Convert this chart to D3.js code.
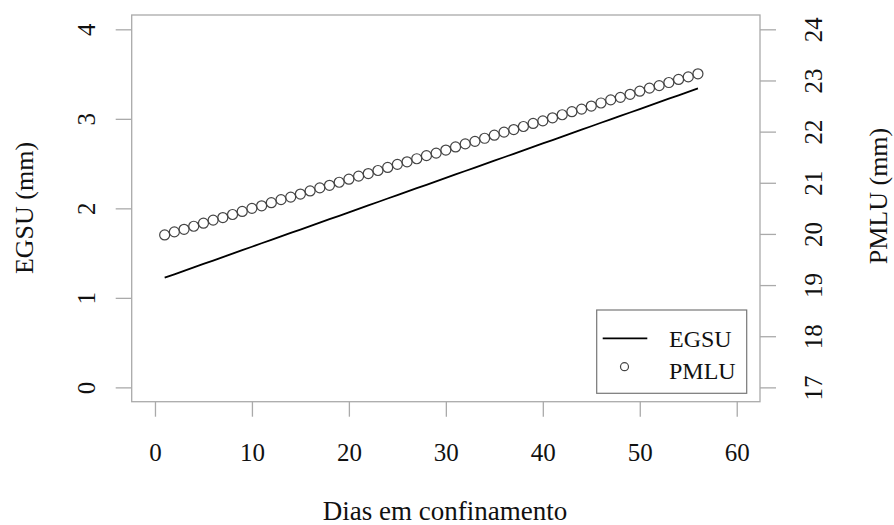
<!DOCTYPE html>
<html>
<head>
<meta charset="utf-8">
<script src="https://cdn.jsdelivr.net/npm/d3@7"></script>
<style>
  body { margin: 0; background: #fff; }
  svg text { font-family: "Liberation Serif", "DejaVu Serif", serif; fill: #111; }
</style>
</head>
<body>
<svg></svg>
<script>
// dias e medidas
var days = [1, 2, 3, 4, 5, 6, 7, 8, 9, 10, 11, 12, 13, 14, 15, 16, 17, 18, 19, 20,
  21, 22, 23, 24, 25, 26, 27, 28, 29, 30, 31, 32, 33, 34, 35, 36, 37, 38, 39, 40,
  41, 42, 43, 44, 45, 46, 47, 48, 49, 50, 51, 52, 53, 54, 55, 56];
var egsu = [1.225, 1.263, 1.302, 1.340, 1.379, 1.417, 1.456, 1.494, 1.533, 1.571,
  1.610, 1.648, 1.686, 1.725, 1.763, 1.802, 1.840, 1.879, 1.917, 1.956, 1.994, 2.033,
  2.071, 2.110, 2.148, 2.186, 2.225, 2.263, 2.302, 2.340, 2.379, 2.417, 2.456, 2.494,
  2.533, 2.571, 2.609, 2.648, 2.686, 2.725, 2.763, 2.802, 2.840, 2.879, 2.917, 2.956,
  2.994, 3.032, 3.071, 3.109, 3.148, 3.186, 3.225, 3.263, 3.302, 3.340];
var pmlu = [19.98, 20.04, 20.09, 20.15, 20.21, 20.27, 20.32, 20.38, 20.44, 20.50,
  20.55, 20.61, 20.67, 20.72, 20.78, 20.84, 20.90, 20.95, 21.01, 21.07, 21.13, 21.18,
  21.24, 21.30, 21.36, 21.41, 21.47, 21.53, 21.58, 21.64, 21.70, 21.76, 21.81, 21.87,
  21.93, 21.99, 22.04, 22.10, 22.16, 22.21, 22.27, 22.33, 22.39, 22.44, 22.50, 22.56,
  22.62, 22.67, 22.73, 22.79, 22.85, 22.90, 22.96, 23.02, 23.07, 23.13];
var xTicks = [0, 10, 20, 30, 40, 50, 60];
var leftTicks = [0, 1, 2, 3, 4];
var rightTicks = [17, 18, 19, 20, 21, 22, 23, 24];
var legendLabels = ["EGSU", "PMLU"];

var width = 894,
  height = 525,
  box = { left: 131.7, right: 760, top: 15, bottom: 401.7 },
  axisCol = "#aaaaaa",
  fsTick = 25,
  fsTitle = 26;

var svg = d3.select("svg").attr("width", width).attr("height", height);

// R style: 4% padding around the limits
var x = d3.scaleLinear().domain([-2.4, 62.4]).range([box.left, box.right]);
var yL = d3.scaleLinear().domain([-0.16, 4.16]).range([box.bottom, box.top]);
var yR = d3.scaleLinear().domain([16.72, 24.28]).range([box.bottom, box.top]);

svg.append("rect")
  .attr("x", box.left).attr("y", box.top)
  .attr("width", box.right - box.left).attr("height", box.bottom - box.top)
  .attr("fill", "none").attr("stroke", axisCol).attr("stroke-width", 1.3);

// x axis
var gx = svg.append("g").attr("transform", "translate(0," + box.bottom + ")")
  .call(d3.axisBottom(x).tickValues(xTicks).tickSize(15).tickFormat(d3.format("d")));
gx.select(".domain").remove();
gx.selectAll("line").attr("stroke", axisCol).attr("stroke-width", 1.3);
gx.selectAll("text")
  .attr("font-size", fsTick).attr("fill", "#111")
  .attr("y", 51).attr("dy", null).attr("dominant-baseline", "central");

// left axis
var gl = svg.append("g").attr("transform", "translate(" + box.left + ",0)")
  .call(d3.axisLeft(yL).tickValues(leftTicks).tickSize(16).tickFormat(d3.format("d")));
gl.select(".domain").remove();
gl.selectAll("line").attr("stroke", axisCol).attr("stroke-width", 1.3);
gl.selectAll("text")
  .attr("font-size", fsTick).attr("fill", "#111")
  .attr("x", 0).attr("dy", null)
  .attr("text-anchor", "middle").attr("dominant-baseline", "central")
  .attr("transform", "translate(-45,0) rotate(-90)");

// right axis
var gr = svg.append("g").attr("transform", "translate(" + box.right + ",0)")
  .call(d3.axisRight(yR).tickValues(rightTicks).tickSize(16).tickFormat(d3.format("d")));
gr.select(".domain").remove();
gr.selectAll("line").attr("stroke", axisCol).attr("stroke-width", 1.3);
gr.selectAll("text")
  .attr("font-size", fsTick).attr("fill", "#111")
  .attr("x", 0).attr("dy", null)
  .attr("text-anchor", "middle").attr("dominant-baseline", "central")
  .attr("transform", "translate(53,0) rotate(-90)");

// titles
svg.append("text")
  .attr("x", 445).attr("y", 519.5)
  .attr("text-anchor", "middle").attr("font-size", 27)
  .text("Dias em confinamento");
svg.append("text")
  .attr("transform", "translate(24,208) rotate(-90)")
  .attr("text-anchor", "middle").attr("dominant-baseline", "central")
  .attr("font-size", fsTitle).text("EGSU (mm)");
svg.append("text")
  .attr("transform", "translate(878,196) rotate(-90)")
  .attr("text-anchor", "middle").attr("dominant-baseline", "central")
  .attr("font-size", fsTitle).text("PMLU (mm)");

// EGSU line
var line = d3.line()
  .x(function(d, i) { return x(days[i]); })
  .y(function(d) { return yL(d); });
svg.append("path")
  .datum(egsu)
  .attr("d", line)
  .attr("fill", "none").attr("stroke", "#000").attr("stroke-width", 1.8);

// PMLU points
svg.append("g").selectAll("circle")
  .data(pmlu)
  .enter().append("circle")
  .attr("cx", function(d, i) { return x(days[i]); })
  .attr("cy", function(d) { return yR(d); })
  .attr("r", 5)
  .attr("fill", "none").attr("stroke", "#444").attr("stroke-width", 1.2);

// legend
var leg = svg.append("g");
leg.append("rect")
  .attr("x", 596.7).attr("y", 310).attr("width", 150).attr("height", 83.3)
  .attr("fill", "#fff").attr("stroke", "#777").attr("stroke-width", 1.2);
leg.append("line")
  .attr("x1", 602.7).attr("x2", 647.3).attr("y1", 338.3).attr("y2", 338.3)
  .attr("stroke", "#000").attr("stroke-width", 1.8);
leg.append("circle")
  .attr("cx", 624.5).attr("cy", 366.7).attr("r", 4)
  .attr("fill", "none").attr("stroke", "#444").attr("stroke-width", 1.2);
leg.selectAll("text.lab")
  .data(legendLabels)
  .enter().append("text")
  .attr("class", "lab")
  .attr("x", 669)
  .attr("y", function(d, i) { return 346.5 + i * 32.5; })
  .attr("font-size", 24)
  .text(function(d) { return d; });
</script>
</body>
</html>
